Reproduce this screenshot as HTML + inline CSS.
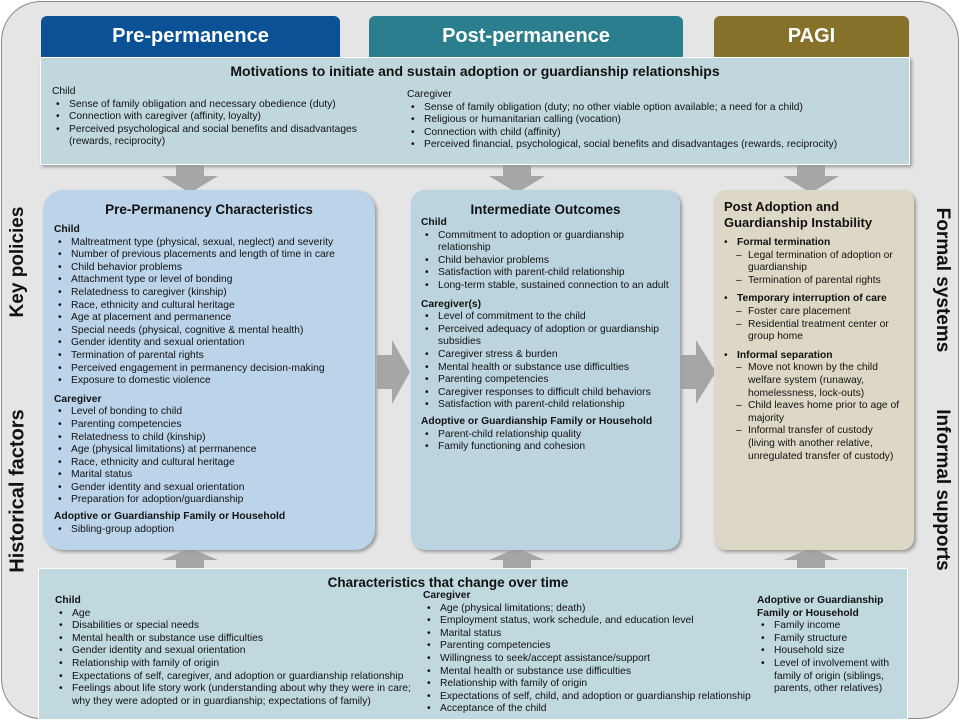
<!DOCTYPE html>
<html><head><meta charset="utf-8"><style>
*{margin:0;padding:0;box-sizing:border-box}
body{width:960px;height:720px;overflow:hidden;background:#fff;font-family:"Liberation Sans",Arial,sans-serif;color:#111;position:relative}
.a{position:absolute}
.t{font-size:10.3px;line-height:12.6px}
.t b{font-weight:bold}
ul{list-style:none}
li{position:relative;padding-left:17px}
li:before{content:"•";position:absolute;left:4px}
li.d{padding-left:28px}
li.d:before{content:"–";left:16px}
.hdr{color:#fff;font-weight:bold;font-size:20px;text-align:center;line-height:41px;border-radius:6px 6px 0 0}
.vt{font-weight:bold;font-size:19px;white-space:nowrap;color:#111}
</style></head><body>
<div class="a" style="left:1px;top:1px;width:958px;height:718px;background:#e5e5e5;border:1.5px solid #888;border-radius:40px"></div>

<div class="a hdr" style="left:41px;top:16px;width:299px;height:42px;background:#0a5295">Pre-permanence</div>
<div class="a hdr" style="left:369px;top:16px;width:314px;height:42px;background:#2a7e8e">Post-permanence</div>
<div class="a hdr" style="left:714px;top:16px;width:195px;height:42px;background:#86712b">PAGI</div>

<svg class="a" style="left:0;top:0" width="960" height="720">
<g fill="#a6a6a6">
<polygon points="176,165 204,165 204,176 218,176 190,193 162,176 176,176"/>
<polygon points="503,165 531,165 531,176 545,176 517,193 489,176 503,176"/>
<polygon points="797,165 825,165 825,176 839,176 811,193 783,176 797,176"/>
<polygon points="377,355 392,355 392,340 410,372 392,404 392,389 377,389"/>
<polygon points="681,355 696,355 696,340 716,372 696,404 696,389 681,389"/>
<polygon points="176,568 204,568 204,560 218,560 190,548 162,560 176,560"/>
<polygon points="503,568 531,568 531,560 545,560 517,548 489,560 503,560"/>
<polygon points="797,568 825,568 825,560 839,560 811,548 783,560 797,560"/>
</g></svg>

<div class="a" style="left:40px;top:57px;width:870px;height:108px;background:#c0d8dd;border:1.5px solid #fff;box-shadow:2px 2px 3px #999"></div>
<div class="a" style="left:40px;top:63px;width:870px;text-align:center;font-weight:bold;font-size:14px">Motivations to initiate and sustain adoption or guardianship relationships</div>
<div class="a t" style="left:52px;top:86px;width:340px">Child<ul>
<li>Sense of family obligation and necessary obedience (duty)</li>
<li>Connection with caregiver (affinity, loyalty)</li>
<li>Perceived psychological and social benefits and disadvantages (rewards, reciprocity)</li></ul></div>
<div class="a t" style="left:407px;top:89px;width:500px">Caregiver<ul>
<li>Sense of family obligation (duty; no other viable option available; a need for a child)</li>
<li>Religious or humanitarian calling (vocation)</li>
<li>Connection with child (affinity)</li>
<li>Perceived financial, psychological, social benefits and disadvantages (rewards, reciprocity)</li></ul></div>

<div class="a" style="left:43px;top:190px;width:332px;height:360px;background:#bcd4ea;border-radius:20px;box-shadow:2px 2px 3px #999"></div>
<div class="a" style="left:43px;top:202px;width:332px;text-align:center;font-weight:bold;font-size:13.5px">Pre-Permanency Characteristics</div>
<div class="a t" style="left:54px;top:224px;width:318px"><b>Child</b><ul>
<li>Maltreatment type (physical, sexual, neglect) and severity</li>
<li>Number of previous placements and length of time in care</li>
<li>Child behavior problems</li>
<li>Attachment type or level of bonding</li>
<li>Relatedness to caregiver (kinship)</li>
<li>Race, ethnicity and cultural heritage</li>
<li>Age at placement and permanence</li>
<li>Special needs (physical, cognitive &amp; mental health)</li>
<li>Gender identity and sexual orientation</li>
<li>Termination of parental rights</li>
<li>Perceived engagement in permanency decision-making</li>
<li>Exposure to domestic violence</li></ul>
<div style="margin-top:6px"><b>Caregiver</b></div><ul>
<li>Level of bonding to child</li>
<li>Parenting competencies</li>
<li>Relatedness to child (kinship)</li>
<li>Age (physical limitations) at permanence</li>
<li>Race, ethnicity and cultural heritage</li>
<li>Marital status</li>
<li>Gender identity and sexual orientation</li>
<li>Preparation for adoption/guardianship</li></ul>
<div style="margin-top:4px"><b>Adoptive or Guardianship Family or Household</b></div><ul>
<li>Sibling-group adoption</li></ul></div>

<div class="a" style="left:411px;top:190px;width:269px;height:360px;background:#bcd4df;border-radius:14px;box-shadow:2px 2px 3px #999"></div>
<div class="a" style="left:411px;top:202px;width:269px;text-align:center;font-weight:bold;font-size:13.5px">Intermediate Outcomes</div>
<div class="a t" style="left:421px;top:217px;width:256px"><b>Child</b><ul>
<li>Commitment to adoption or guardianship relationship</li>
<li>Child behavior problems</li>
<li>Satisfaction with parent-child relationship</li>
<li>Long-term stable, sustained connection to an adult</li></ul>
<div style="margin-top:6px"><b>Caregiver(s)</b></div><ul>
<li>Level of commitment to the child</li>
<li>Perceived adequacy of adoption or guardianship subsidies</li>
<li>Caregiver stress &amp; burden</li>
<li>Mental health or substance use difficulties</li>
<li>Parenting competencies</li>
<li>Caregiver responses to difficult child behaviors</li>
<li>Satisfaction with parent-child relationship</li></ul>
<div style="margin-top:4px"><b>Adoptive or Guardianship Family or Household</b></div><ul>
<li>Parent-child relationship quality</li>
<li>Family functioning and cohesion</li></ul></div>

<div class="a" style="left:714px;top:190px;width:200px;height:360px;background:#ddd8c6;border-radius:12px;box-shadow:2px 2px 3px #999"></div>
<div class="a" style="left:724px;top:199px;width:190px;font-weight:bold;font-size:13px;line-height:16px">Post Adoption and Guardianship Instability</div>
<div class="a t" style="left:720px;top:237px;width:184px"><ul>
<li><b>Formal termination</b></li>
<li class="d">Legal termination of adoption or guardianship</li>
<li class="d">Termination of parental rights</li>
<li style="margin-top:6px"><b>Temporary interruption of care</b></li>
<li class="d">Foster care placement</li>
<li class="d">Residential treatment center or group home</li>
<li style="margin-top:6px"><b>Informal separation</b></li>
<li class="d">Move not known by the child welfare system (runaway, homelessness, lock-outs)</li>
<li class="d">Child leaves home prior to age of majority</li>
<li class="d">Informal transfer of custody<br>(living with another relative, unregulated transfer of custody)</li></ul></div>

<div class="a" style="left:38px;top:568px;width:870px;height:152px;background:#c0d9de;border:1.5px solid #fff"></div>
<div class="a" style="left:38px;top:575px;width:870px;text-align:center;font-weight:bold;font-size:13.5px;padding-right:50px">Characteristics that change over time</div>
<div class="a t" style="left:55px;top:595px;width:360px"><b>Child</b><ul>
<li>Age</li>
<li>Disabilities or special needs</li>
<li>Mental health or substance use difficulties</li>
<li>Gender identity and sexual orientation</li>
<li>Relationship with family of origin</li>
<li>Expectations of self, caregiver, and adoption or guardianship relationship</li>
<li>Feelings about life story work (understanding about why they were in care; why they were adopted or in guardianship; expectations of family)</li></ul></div>
<div class="a t" style="left:423px;top:590px;width:340px"><b>Caregiver</b><ul>
<li>Age (physical limitations; death)</li>
<li>Employment status, work schedule, and education level</li>
<li>Marital status</li>
<li>Parenting competencies</li>
<li>Willingness to seek/accept assistance/support</li>
<li>Mental health or substance use difficulties</li>
<li>Relationship with family of origin</li>
<li>Expectations of self, child, and adoption or guardianship relationship</li>
<li>Acceptance of the child</li></ul></div>
<div class="a t" style="left:757px;top:595px;width:148px"><b>Adoptive or Guardianship Family or Household</b><ul>
<li>Family income</li>
<li>Family structure</li>
<li>Household size</li>
<li>Level of involvement with family of origin (siblings, parents, other relatives)</li></ul></div>

<div class="a vt" style="left:18px;top:262px;transform:translate(-50%,-50%) rotate(-90deg)">Key policies</div>
<div class="a vt" style="left:18px;top:491px;font-size:20px;transform:translate(-50%,-50%) rotate(-90deg)">Historical factors</div>
<div class="a vt" style="left:942px;top:280px;transform:translate(-50%,-50%) rotate(90deg)">Formal systems</div>
<div class="a vt" style="left:942px;top:490px;transform:translate(-50%,-50%) rotate(90deg)">Informal supports</div>
</body></html>
